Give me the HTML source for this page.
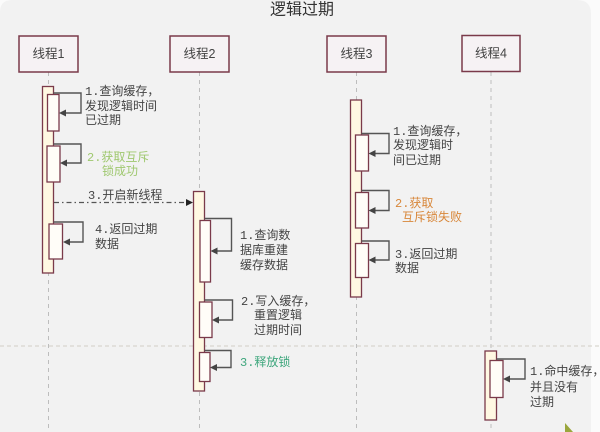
<!DOCTYPE html>
<html>
<head>
<meta charset="utf-8">
<style>
  html, body { margin: 0; padding: 0; background: #fbfbfb; }
  body { width: 600px; height: 432px; overflow: hidden; }
  svg { display: block; overflow: hidden; }
  .t { font-family: "Liberation Mono", "Noto Sans CJK SC", monospace; font-size: 12px; fill: #444; dominant-baseline: central; }
  .h { font-family: "Liberation Sans", "Noto Sans CJK SC", sans-serif; font-size: 12.5px; fill: #444; dominant-baseline: central; text-anchor: middle; }
  .title { font-family: "Liberation Sans", "Noto Sans CJK SC", sans-serif; font-size: 16px; fill: #333; dominant-baseline: central; }
</style>
</head>
<body>
<svg width="600" height="432" viewBox="0 0 600 432" xmlns="http://www.w3.org/2000/svg">
  <rect x="0" y="0" width="600" height="432" fill="#fbfbfb"/>
  <path d="M0,12 Q0,0 12,0 H577 Q591,0 591,14 V432 H0 Z" fill="#f2f2f2"/>

  <text class="title" x="270" y="10">逻辑过期</text>

  <!-- lifelines -->
  <g stroke="#bdbdbd" stroke-width="1" stroke-dasharray="4,4" fill="none">
    <line x1="48.5" y1="72" x2="48.5" y2="432"/>
    <line x1="199.5" y1="72" x2="199.5" y2="432"/>
    <line x1="356.5" y1="72" x2="356.5" y2="432"/>
    <line x1="491" y1="72" x2="491" y2="432"/>
  </g>

  <!-- horizontal separator -->
  <line x1="0" y1="346" x2="600" y2="346" stroke="#d2cfc6" stroke-width="1" stroke-dasharray="4,3"/>

  <!-- headers -->
  <g fill="#f6f2f4" stroke="#7a3a4a" stroke-width="1.5">
    <rect x="19" y="36" width="59" height="36"/>
    <rect x="170" y="36" width="59" height="36"/>
    <rect x="327" y="36" width="59" height="36"/>
    <rect x="462" y="35.5" width="58" height="36"/>
  </g>
  <text class="h" x="48.5" y="54">线程1</text>
  <text class="h" x="199.5" y="54">线程2</text>
  <text class="h" x="356.5" y="54">线程3</text>
  <text class="h" x="491" y="53.5">线程4</text>

  <!-- outer activation bars -->
  <g fill="#fff8e2" stroke="#7a3a4a" stroke-width="1.3">
    <rect x="42.5" y="86.5" width="11" height="186.5"/>
    <rect x="193.5" y="191.5" width="11" height="199.5"/>
    <rect x="350.5" y="100" width="11" height="197"/>
    <rect x="485" y="351" width="11.5" height="69"/>
  </g>

  <!-- inner boxes -->
  <g fill="#fffdf8" stroke="#7a3a4a" stroke-width="1.3">
    <rect x="47.5" y="94.5" width="11.5" height="36.5"/>
    <rect x="47" y="146" width="13" height="36"/>
    <rect x="49" y="224" width="13.5" height="35"/>

    <rect x="200" y="220.5" width="10.5" height="61.5"/>
    <rect x="199.5" y="302" width="12.5" height="35.5"/>
    <rect x="199.5" y="352.5" width="10.5" height="29"/>

    <rect x="355.5" y="135" width="13" height="36"/>
    <rect x="355.5" y="192.5" width="13" height="35.5"/>
    <rect x="355.5" y="243.5" width="13" height="34"/>

    <rect x="490" y="360.5" width="13" height="37"/>
  </g>

  <!-- self loops -->
  <g stroke="#555" stroke-width="1.4" fill="none">
    <path d="M53.5,93 H81 V113 H64"/>
    <path d="M53.5,144 H81 V163 H65"/>
    <path d="M53.5,222 H83 V242 H68"/>

    <path d="M204.5,218.5 H231.5 V251 H215.5"/>
    <path d="M204.5,300 H232.5 V320 H217"/>
    <path d="M204.5,350.5 H231 V367.5 H215"/>

    <path d="M361.5,133.5 H389 V153.5 H373.5"/>
    <path d="M361.5,190.5 H389 V210.5 H373.5"/>
    <path d="M361.5,241 H389 V260 H373.5"/>

    <path d="M496.5,359 H525 V379 H508"/>
  </g>
  <g fill="#444">
    <polygon points="59,113 66,109.5 66,116.5"/>
    <polygon points="60,163 67,159.5 67,166.5"/>
    <polygon points="63,242 70,238.5 70,245.5"/>

    <polygon points="210.5,251 217.5,247.5 217.5,254.5"/>
    <polygon points="212,320 219,316.5 219,323.5"/>
    <polygon points="210,367.5 217,364 217,371"/>

    <polygon points="368.5,153.5 375.5,150 375.5,157"/>
    <polygon points="368.5,210.5 375.5,207 375.5,214"/>
    <polygon points="368.5,260 375.5,256.5 375.5,263.5"/>

    <polygon points="503,379 510,375.5 510,382.5"/>
  </g>

  <!-- async message 3 -->
  <line x1="54" y1="202.5" x2="187" y2="202.5" stroke="#555" stroke-width="1.2" stroke-dasharray="5,3,1.5,3"/>
  <polygon points="193,202.5 186,199 186,206" fill="#222"/>

  <!-- labels thread 1 -->
  <text class="t" x="85" y="92">1.查询缓存，</text>
  <text class="t" x="85" y="107">发现逻辑时间</text>
  <text class="t" x="85" y="121">已过期</text>
  <text class="t" x="87" y="158" style="fill:#9fc86f">2.获取互斥</text>
  <text class="t" x="102" y="172" style="fill:#9fc86f">锁成功</text>
  <text class="t" x="88" y="196">3.开启新线程</text>
  <text class="t" x="95" y="230">4.返回过期</text>
  <text class="t" x="95" y="245">数据</text>

  <!-- labels thread 2 -->
  <text class="t" x="240" y="236">1.查询数</text>
  <text class="t" x="240" y="251">据库重建</text>
  <text class="t" x="240" y="266">缓存数据</text>
  <text class="t" x="241" y="302">2.写入缓存，</text>
  <text class="t" x="254" y="316">重置逻辑</text>
  <text class="t" x="254" y="331">过期时间</text>
  <text class="t" x="240" y="363" style="fill:#3da67c">3.释放锁</text>

  <!-- labels thread 3 -->
  <text class="t" x="393" y="132">1.查询缓存，</text>
  <text class="t" x="393" y="146">发现逻辑时</text>
  <text class="t" x="393" y="161">间已过期</text>
  <text class="t" x="395" y="204" style="fill:#d8873a">2.获取</text>
  <text class="t" x="402" y="218" style="fill:#d8873a">互斥锁失败</text>
  <text class="t" x="395" y="255">3.返回过期</text>
  <text class="t" x="395" y="269">数据</text>

  <!-- labels thread 4 -->
  <text class="t" x="530" y="372">1.命中缓存，</text>
  <text class="t" x="530" y="388">并且没有</text>
  <text class="t" x="530" y="403">过期</text>

  <!-- cursor -->
  <polygon points="565,423 565,432 573,432" fill="#9aa63c"/>
</svg>
</body>
</html>
